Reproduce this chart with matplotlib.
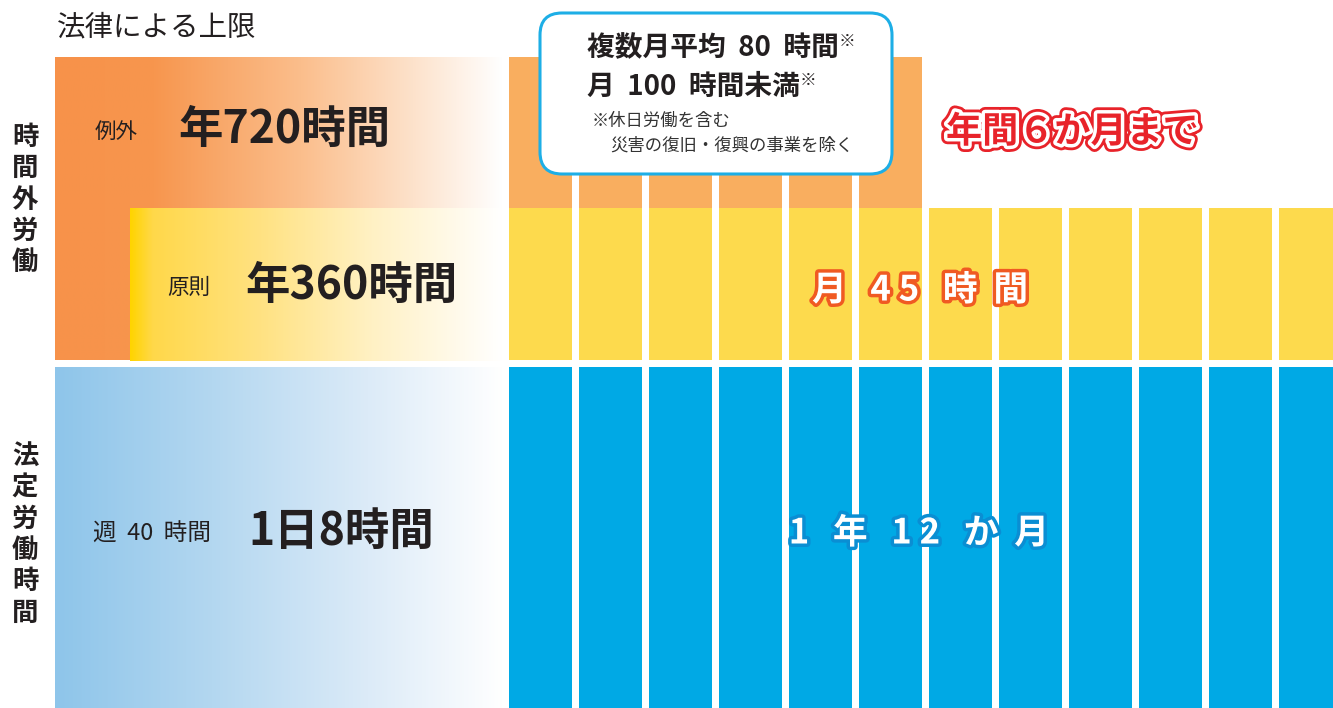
import numpy as np
import matplotlib.pyplot as plt
import matplotlib.patheffects as pe
from matplotlib.patches import FancyBboxPatch
from matplotlib.colors import LinearSegmentedColormap

plt.rcParams['font.family'] = ['Noto Sans CJK JP', 'DejaVu Sans']

# data
months = list(range(1, 13))          # 1年12か月
exception_months = 6                 # 年間6か月まで
section_title = '法律による上限'
overtime_label = '時間外労働'
legal_label = '法定労働時間'
exception_texts = ['例外', '年720時間']
principle_texts = ['原則', '年360時間']
legal_texts = ['週  40  時間', '1日8時間']
note_lines = ['複数月平均  80  時間', '月  100  時間未満',
              '※休日労働を含む', '災害の復旧・復興の事業を除く']

W, H = 1333, 708
fig = plt.figure(figsize=(W / 100, H / 100), dpi=100)
ax = fig.add_axes([0, 0, 1, 1])
ax.set_xlim(0, W)
ax.set_ylim(H, 0)
ax.axis('off')

dark = '#231F20'


def gradient(x0, x1, y0, y1, stops):
    cmap = LinearSegmentedColormap.from_list('g', stops)
    grad = np.linspace(0, 1, 256).reshape(1, -1)
    ax.imshow(grad, cmap=cmap, extent=(x0, x1, y1, y0), aspect='auto',
              interpolation='bilinear', zorder=1)


# left gradient panels
gradient(55, 503, 57, 360, [(0, '#F7924A'), (0.22, '#F7964E'), (0.55, '#FBBE8C'),
                            (0.8, '#FDE2CB'), (1, '#FFFFFF')])
gradient(130, 503, 208, 361, [(0, '#FFD400'), (0.06, '#FFD84A'), (0.35, '#FFE282'),
                              (0.65, '#FFF1C4'), (1, '#FFFFFF')])
gradient(55, 503, 367, 708, [(0, '#8EC5EA'), (0.35, '#B3D7F0'), (0.7, '#DCEBF8'),
                             (1, '#FFFFFF')])

# month columns
x0, pitch, bw = 509, 70, 63
xs = [x0 + (m - 1) * pitch for m in months]
ax.bar(xs[:exception_months], 151, bottom=57, width=bw, align='edge',
       color='#F9AE5F', zorder=2)
ax.bar(xs, 152, bottom=208, width=bw, align='edge', color='#FDDA4D', zorder=2)
ax.bar(xs, 341, bottom=367, width=bw, align='edge', color='#00A9E5', zorder=2)

# note box
box = FancyBboxPatch((540, 13), 352, 161, boxstyle='round,pad=0,rounding_size=22',
                     fc='white', ec='#1DAEE6', lw=2.2, zorder=5)
ax.add_patch(box)

# headings
ax.text(57, 27, section_title, fontsize=20.5, color=dark, va='center', zorder=6)
ax.text(25, 200, '\n'.join(overtime_label), fontsize=19, color=dark, ha='center',
        va='center', linespacing=1.2, weight='bold', zorder=6)
ax.text(25, 535, '\n'.join(legal_label), fontsize=19, color=dark, ha='center',
        va='center', linespacing=1.2, weight='bold', zorder=6)

# panel texts
ax.text(95, 132, exception_texts[0], fontsize=15.5, color=dark, va='center', zorder=6)
ax.text(178, 130, exception_texts[1], fontsize=32, color=dark, va='center',
        weight='bold', zorder=6)
ax.text(167, 288, principle_texts[0], fontsize=15.5, color=dark, va='center', zorder=6)
ax.text(245, 286, principle_texts[1], fontsize=32, color=dark, va='center',
        weight='bold', zorder=6)
ax.text(93, 534, legal_texts[0], fontsize=17, color=dark, va='center', zorder=6)
ax.text(248, 532, legal_texts[1], fontsize=32, color=dark, va='center',
        weight='bold', zorder=6)

# box texts
t1 = ax.text(587, 48, note_lines[0], fontsize=20, color=dark, va='center',
             weight='bold', zorder=6)
ax.annotate('※', xy=(1, 0.75), xycoords=t1, fontsize=12, color=dark,
            va='center', ha='left', zorder=6)
t2 = ax.text(587, 87, note_lines[1], fontsize=20, color=dark, va='center',
             weight='bold', zorder=6)
ax.annotate('※', xy=(1, 0.75), xycoords=t2, fontsize=12, color=dark,
            va='center', ha='left', zorder=6)
ax.text(592, 121, note_lines[2], fontsize=12.5, color='#333333', va='center', zorder=6)
ax.text(610, 146, note_lines[3], fontsize=12.5, color='#333333', va='center', zorder=6)

# outlined labels
red_fx = [pe.Stroke(linewidth=9, foreground='#E8232A'),
          pe.Stroke(linewidth=5, foreground='white'), pe.Normal()]
ax.text(946, 132, '年間６か月まで', fontsize=26, color='#E8232A', va='center',
        weight='bold', path_effects=red_fx, zorder=6)
ax.text(920, 290, '月   4 5   時  間', fontsize=25, color='white', ha='center',
        va='center', weight='bold', zorder=6,
        path_effects=[pe.withStroke(linewidth=5, foreground='#F05A22')])
ax.text(919, 533, '1   年   1 2   か  月', fontsize=25, color='white', ha='center',
        va='center', weight='bold', zorder=6,
        path_effects=[pe.withStroke(linewidth=5, foreground='#0A8ED3')])

fig.savefig('out.png', dpi=100)
